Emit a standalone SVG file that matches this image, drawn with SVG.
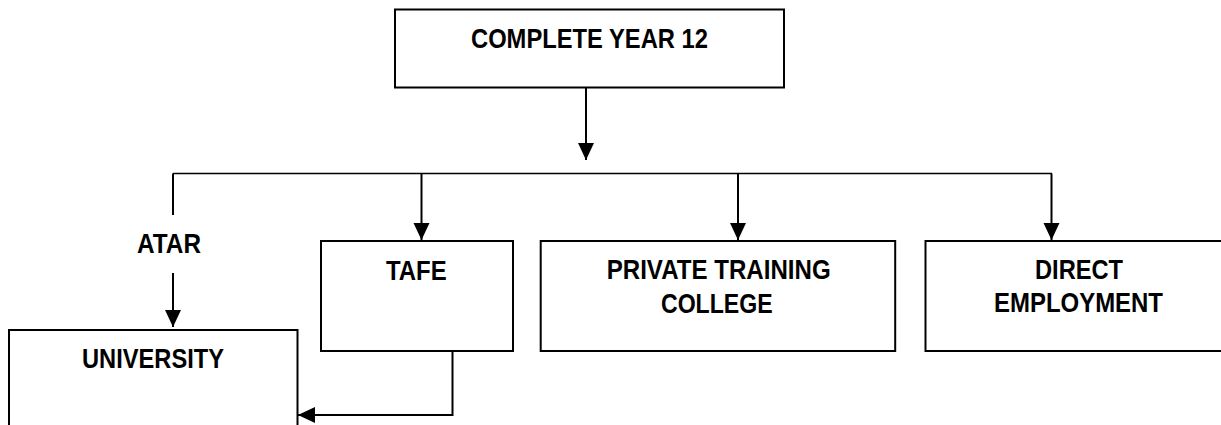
<svg xmlns="http://www.w3.org/2000/svg" width="1221" height="425" viewBox="0 0 1221 425">
<style>
.box{fill:#fff;stroke:#000;stroke-width:2}
.lbl{font-family:"Liberation Sans",Arial,sans-serif;font-weight:bold;font-size:28px;fill:#000;text-anchor:middle}
.con{fill:none;stroke:#000;stroke-width:2}
.thin{fill:none;stroke:#000;stroke-width:1.5}
</style>
<defs>
<marker id="ah" markerUnits="userSpaceOnUse" markerWidth="17" markerHeight="17" refX="17" refY="8.5" orient="auto" viewBox="0 0 17 17">
<path d="M0,0.5 L17,8.5 L0,16.5 Z" fill="#000"/>
</marker>
</defs>
<g id="connectors">
<line class="con" x1="586" y1="88" x2="586" y2="160" marker-end="url(#ah)"/>
<line class="thin" x1="173" y1="173.5" x2="1052" y2="173.5"/>
<line class="con" x1="173" y1="173.5" x2="173" y2="215"/>
<line class="con" x1="173" y1="273" x2="173" y2="327" marker-end="url(#ah)"/>
<line class="con" x1="421.5" y1="173.5" x2="421.5" y2="240" marker-end="url(#ah)"/>
<line class="con" x1="738" y1="173.5" x2="738" y2="240" marker-end="url(#ah)"/>
<line class="con" x1="1051.5" y1="173.5" x2="1051.5" y2="240" marker-end="url(#ah)"/>
<polyline class="con" points="452.5,343.5 452.5,415 298,415" marker-end="url(#ah)"/>
</g>
<g id="year12">
<rect class="box" x="395" y="9.5" width="389" height="78"/>
<text class="lbl" x="589.5" y="48.3" textLength="237" lengthAdjust="spacingAndGlyphs">COMPLETE YEAR 12</text>
</g>
<g id="atar">
<text class="lbl" x="169" y="253.3" textLength="64" lengthAdjust="spacingAndGlyphs">ATAR</text>
</g>
<g id="university">
<rect class="box" x="9" y="330" width="288.5" height="110"/>
<text class="lbl" x="153" y="367.7" textLength="142" lengthAdjust="spacingAndGlyphs">UNIVERSITY</text>
</g>
<g id="tafe">
<rect class="box" x="321" y="241" width="192" height="110"/>
<text class="lbl" x="416.3" y="279.5" textLength="60.7" lengthAdjust="spacingAndGlyphs">TAFE</text>
</g>
<g id="ptc">
<rect class="box" x="540.7" y="241" width="354.5" height="110"/>
<text class="lbl" x="718.7" y="279.3" textLength="224" lengthAdjust="spacingAndGlyphs">PRIVATE TRAINING</text>
<text class="lbl" x="716.8" y="313.3" textLength="111.7" lengthAdjust="spacingAndGlyphs">COLLEGE</text>
</g>
<g id="employment">
<rect class="box" x="925.5" y="241" width="320" height="110"/>
<text class="lbl" x="1079" y="279" textLength="88" lengthAdjust="spacingAndGlyphs">DIRECT</text>
<text class="lbl" x="1078.5" y="312.3" textLength="169" lengthAdjust="spacingAndGlyphs">EMPLOYMENT</text>
</g>
</svg>
